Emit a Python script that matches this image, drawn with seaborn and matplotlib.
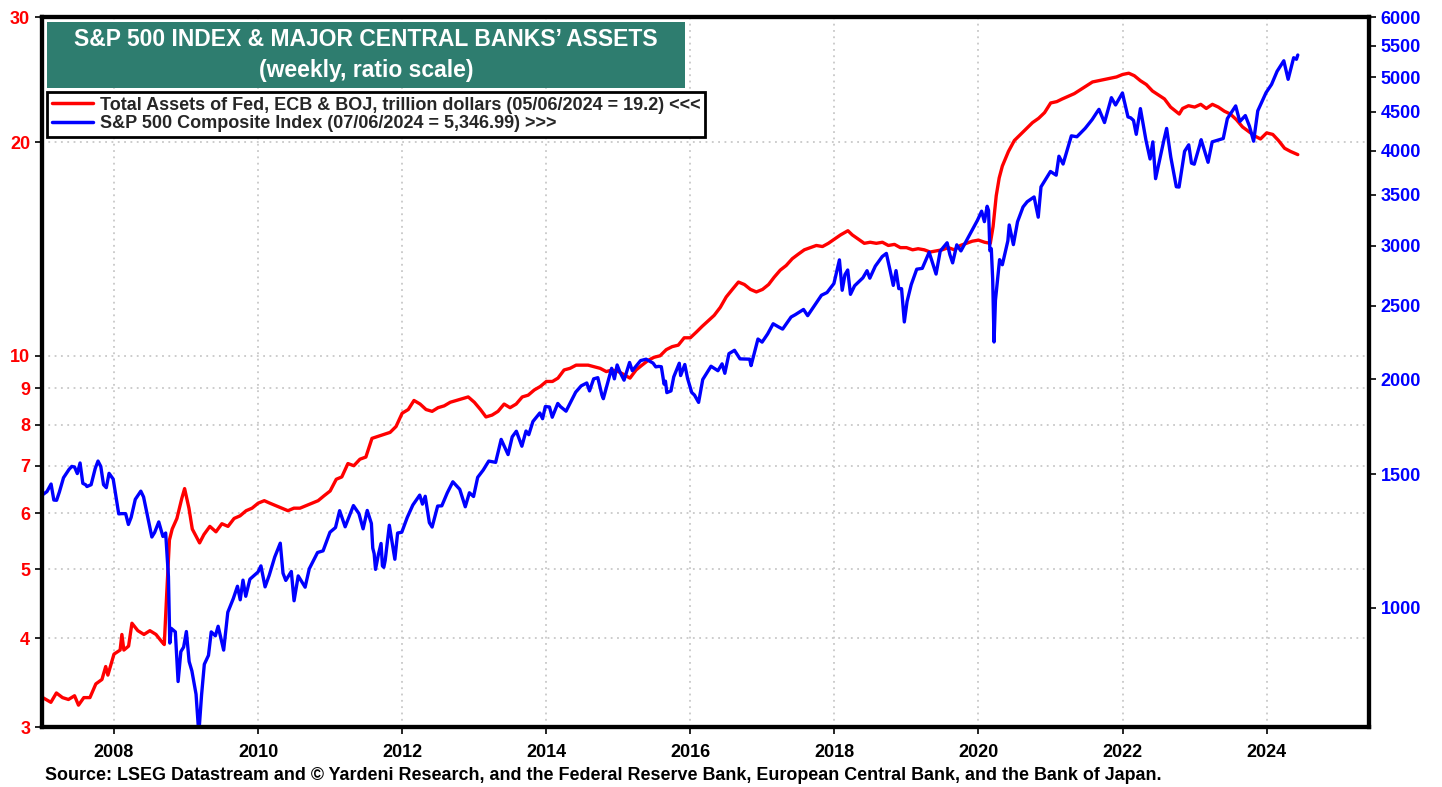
import matplotlib
matplotlib.use("Agg")
import matplotlib.pyplot as plt
import matplotlib.dates as mdates
import matplotlib.ticker as mticker
from matplotlib.lines import Line2D
from matplotlib.patches import Rectangle
import pandas as pd
import seaborn as sns

# central bank assets (trillion $)
assets_dates = [
    "2007-01-05", "2007-02-15", "2007-03-15", "2007-04-15", "2007-05-15", "2007-06-15", "2007-07-05",
    "2007-08-01", "2007-09-01", "2007-10-01", "2007-11-01", "2007-11-20", "2007-12-01", "2008-01-01",
    "2008-02-01", "2008-02-10", "2008-02-20", "2008-03-15", "2008-04-01", "2008-05-01", "2008-06-01",
    "2008-07-01", "2008-08-01", "2008-09-01", "2008-09-12", "2008-09-24", "2008-10-08", "2008-10-22",
    "2008-11-15", "2008-12-10", "2008-12-24", "2009-01-15", "2009-02-01", "2009-03-10", "2009-04-01",
    "2009-05-01", "2009-06-01", "2009-07-01", "2009-08-01", "2009-09-01", "2009-10-01", "2009-11-01",
    "2009-12-01", "2010-01-01", "2010-02-01", "2010-03-01", "2010-04-01", "2010-05-01", "2010-06-01",
    "2010-07-01", "2010-08-01", "2010-09-01", "2010-10-01", "2010-11-01", "2010-12-01", "2011-01-01",
    "2011-02-01", "2011-03-01", "2011-04-01", "2011-05-01", "2011-06-01", "2011-07-01", "2011-08-01",
    "2011-09-01", "2011-10-01", "2011-11-01", "2011-12-01", "2012-01-01", "2012-02-01", "2012-03-01",
    "2012-04-01", "2012-05-01", "2012-06-01", "2012-07-01", "2012-08-01", "2012-09-01", "2012-10-01",
    "2012-11-01", "2012-12-01", "2013-01-01", "2013-02-01", "2013-03-01", "2013-04-01", "2013-05-01",
    "2013-06-01", "2013-07-01", "2013-08-01", "2013-09-01", "2013-10-01", "2013-11-01", "2013-12-01",
    "2014-01-01", "2014-02-01", "2014-03-01", "2014-04-01", "2014-05-01", "2014-06-01", "2014-07-01",
    "2014-08-01", "2014-09-01", "2014-10-01", "2014-11-01", "2014-12-01", "2015-01-01", "2015-02-01",
    "2015-03-01", "2015-04-01", "2015-05-01", "2015-06-01", "2015-07-01", "2015-08-01", "2015-09-01",
    "2015-10-01", "2015-11-01", "2015-12-01", "2016-01-01", "2016-02-01", "2016-03-01", "2016-04-01",
    "2016-05-01", "2016-06-01", "2016-07-01", "2016-08-01", "2016-09-01", "2016-10-01", "2016-11-01",
    "2016-12-01", "2017-01-01", "2017-02-01", "2017-03-01", "2017-04-01", "2017-05-01", "2017-06-01",
    "2017-07-01", "2017-08-01", "2017-09-01", "2017-10-01", "2017-11-01", "2017-12-01", "2018-01-01",
    "2018-02-01", "2018-03-10", "2018-04-01", "2018-05-01", "2018-06-01", "2018-07-01", "2018-08-01",
    "2018-09-01", "2018-10-01", "2018-11-01", "2018-12-01", "2019-01-01", "2019-02-01", "2019-03-01",
    "2019-04-01", "2019-05-01", "2019-06-01", "2019-07-01", "2019-08-01", "2019-09-01", "2019-10-01",
    "2019-11-01", "2019-12-01", "2020-01-01", "2020-02-01", "2020-03-01", "2020-03-15", "2020-03-31",
    "2020-04-15", "2020-05-01", "2020-06-01", "2020-07-01", "2020-08-01", "2020-09-01", "2020-10-01",
    "2020-11-01", "2020-12-01", "2021-01-01", "2021-02-01", "2021-03-01", "2021-04-01", "2021-05-01",
    "2021-06-01", "2021-07-01", "2021-08-01", "2021-09-01", "2021-10-01", "2021-11-01", "2021-12-01",
    "2022-01-01", "2022-02-01", "2022-03-01", "2022-04-01", "2022-05-01", "2022-06-01", "2022-07-01",
    "2022-08-01", "2022-09-01", "2022-10-15", "2022-11-01", "2022-12-01", "2023-01-01", "2023-02-01",
    "2023-03-01", "2023-04-01", "2023-05-01", "2023-06-01", "2023-07-01", "2023-08-01", "2023-09-01",
    "2023-10-01", "2023-11-01", "2023-12-01", "2024-01-01", "2024-02-01", "2024-03-01", "2024-04-01",
    "2024-05-01", "2024-06-07",
]
assets_values = [
    3.30, 3.25, 3.35, 3.30, 3.28, 3.32, 3.22,
    3.30, 3.30, 3.45, 3.50, 3.65, 3.55, 3.80,
    3.85, 4.05, 3.85, 3.90, 4.20, 4.10, 4.05,
    4.10, 4.05, 3.95, 3.92, 4.60, 5.50, 5.70,
    5.90, 6.30, 6.50, 6.10, 5.70, 5.45, 5.60,
    5.75, 5.65, 5.80, 5.75, 5.90, 5.95, 6.05,
    6.10, 6.20, 6.25, 6.20, 6.15, 6.10, 6.05,
    6.10, 6.10, 6.15, 6.20, 6.25, 6.35, 6.45,
    6.70, 6.75, 7.05, 7.00, 7.15, 7.20, 7.65,
    7.70, 7.75, 7.80, 7.95, 8.30, 8.40, 8.65,
    8.55, 8.40, 8.35, 8.45, 8.50, 8.60, 8.65,
    8.70, 8.75, 8.60, 8.40, 8.20, 8.25, 8.35,
    8.55, 8.45, 8.55, 8.75, 8.80, 8.95, 9.05,
    9.20, 9.20, 9.30, 9.55, 9.60, 9.70, 9.70,
    9.70, 9.65, 9.60, 9.50, 9.55, 9.50, 9.40,
    9.30, 9.55, 9.70, 9.85, 9.95, 10.00, 10.20,
    10.30, 10.35, 10.60, 10.60, 10.80, 11.00, 11.20,
    11.40, 11.70, 12.10, 12.40, 12.70, 12.60, 12.40,
    12.30, 12.40, 12.60, 12.90, 13.20, 13.40, 13.70,
    13.90, 14.10, 14.20, 14.30, 14.25, 14.40, 14.60,
    14.80, 15.00, 14.80, 14.60, 14.40, 14.45, 14.40,
    14.45, 14.30, 14.35, 14.20, 14.20, 14.10, 14.15,
    14.10, 14.00, 14.05, 14.10, 14.20, 14.10, 14.30,
    14.40, 14.50, 14.55, 14.45, 14.40, 15.20, 16.80,
    17.80, 18.50, 19.40, 20.10, 20.50, 20.90, 21.30,
    21.60, 22.00, 22.70, 22.80, 23.00, 23.20, 23.40,
    23.70, 24.00, 24.30, 24.40, 24.50, 24.60, 24.70,
    24.90, 25.00, 24.80, 24.40, 24.10, 23.60, 23.30,
    23.00, 22.40, 21.90, 22.30, 22.50, 22.40, 22.60,
    22.30, 22.60, 22.40, 22.10, 21.90, 21.50, 21.00,
    20.70, 20.40, 20.20, 20.60, 20.50, 20.10, 19.60,
    19.40, 19.20,
]

# S&P 500 weekly closes
spx_dates = [
    "2007-01-05", "2007-01-26", "2007-02-16", "2007-03-02", "2007-03-16", "2007-03-30", "2007-04-20",
    "2007-05-18", "2007-06-01", "2007-06-15", "2007-06-29", "2007-07-13", "2007-07-27", "2007-08-10",
    "2007-08-17", "2007-09-07", "2007-09-28", "2007-10-12", "2007-10-26", "2007-11-09", "2007-11-23",
    "2007-12-07", "2007-12-28", "2008-01-11", "2008-01-25", "2008-02-08", "2008-02-29", "2008-03-14",
    "2008-03-28", "2008-04-18", "2008-05-16", "2008-05-30", "2008-06-20", "2008-07-11", "2008-07-25",
    "2008-08-15", "2008-09-05", "2008-09-19", "2008-10-03", "2008-10-10", "2008-10-17", "2008-11-07",
    "2008-11-21", "2008-12-05", "2008-12-19", "2009-01-02", "2009-01-16", "2009-01-30", "2009-02-20",
    "2009-03-06", "2009-03-20", "2009-04-03", "2009-04-24", "2009-05-08", "2009-05-29", "2009-06-12",
    "2009-07-10", "2009-07-31", "2009-08-28", "2009-09-18", "2009-10-02", "2009-10-16", "2009-10-30",
    "2009-11-20", "2009-12-31", "2010-01-15", "2010-02-05", "2010-02-26", "2010-03-26", "2010-04-23",
    "2010-05-07", "2010-05-21", "2010-06-18", "2010-07-02", "2010-07-23", "2010-08-27", "2010-09-17",
    "2010-10-29", "2010-11-26", "2010-12-31", "2011-01-28", "2011-02-18", "2011-03-18", "2011-04-29",
    "2011-05-27", "2011-06-17", "2011-07-08", "2011-07-29", "2011-08-05", "2011-08-12", "2011-08-19",
    "2011-09-02", "2011-09-16", "2011-09-23", "2011-09-30", "2011-10-07", "2011-10-28", "2011-11-25",
    "2011-12-09", "2011-12-30", "2012-01-27", "2012-02-24", "2012-03-30", "2012-04-13", "2012-04-27",
    "2012-05-18", "2012-06-01", "2012-06-29", "2012-07-20", "2012-08-17", "2012-09-14", "2012-10-19",
    "2012-11-16", "2012-12-07", "2012-12-28", "2013-01-18", "2013-02-15", "2013-03-15", "2013-04-19",
    "2013-05-17", "2013-06-21", "2013-07-12", "2013-08-02", "2013-08-30", "2013-09-20", "2013-10-04",
    "2013-10-25", "2013-11-29", "2013-12-13", "2013-12-27", "2014-01-17", "2014-01-31", "2014-02-28",
    "2014-03-14", "2014-04-11", "2014-05-30", "2014-06-27", "2014-07-25", "2014-08-08", "2014-08-29",
    "2014-09-19", "2014-10-10", "2014-10-17", "2014-11-28", "2014-12-12", "2014-12-26", "2015-01-09",
    "2015-01-30", "2015-02-27", "2015-03-13", "2015-04-24", "2015-05-22", "2015-06-26", "2015-07-10",
    "2015-07-24", "2015-08-07", "2015-08-21", "2015-08-28", "2015-09-04", "2015-09-25", "2015-10-09",
    "2015-11-06", "2015-11-13", "2015-12-04", "2015-12-18", "2016-01-08", "2016-01-22", "2016-02-12",
    "2016-03-04", "2016-04-15", "2016-05-20", "2016-06-10", "2016-06-24", "2016-07-15", "2016-08-12",
    "2016-09-09", "2016-10-28", "2016-11-04", "2016-12-09", "2016-12-30", "2017-01-27", "2017-02-24",
    "2017-03-24", "2017-04-13", "2017-05-26", "2017-06-16", "2017-07-28", "2017-08-18", "2017-09-22",
    "2017-10-27", "2017-11-24", "2017-12-29", "2018-01-26", "2018-02-09", "2018-02-23", "2018-03-09",
    "2018-03-23", "2018-04-13", "2018-05-25", "2018-06-15", "2018-06-29", "2018-07-27", "2018-08-31",
    "2018-09-21", "2018-10-12", "2018-10-26", "2018-11-09", "2018-11-23", "2018-12-07", "2018-12-21",
    "2019-01-04", "2019-01-25", "2019-02-22", "2019-03-22", "2019-04-26", "2019-05-31", "2019-06-21",
    "2019-07-26", "2019-08-09", "2019-08-23", "2019-09-13", "2019-10-04", "2019-11-29", "2019-12-27",
    "2020-01-17", "2020-01-31", "2020-02-14", "2020-02-21", "2020-02-28", "2020-03-06", "2020-03-13",
    "2020-03-20", "2020-03-27", "2020-04-17", "2020-05-01", "2020-05-29", "2020-06-05", "2020-06-26",
    "2020-07-17", "2020-08-14", "2020-09-04", "2020-10-09", "2020-10-30", "2020-11-13", "2020-12-31",
    "2021-01-29", "2021-02-12", "2021-03-05", "2021-04-16", "2021-05-14", "2021-06-25", "2021-07-30",
    "2021-08-27", "2021-09-03", "2021-10-01", "2021-11-05", "2021-11-26", "2021-12-31", "2022-01-07",
    "2022-01-28", "2022-02-11", "2022-02-25", "2022-03-11", "2022-04-01", "2022-04-29", "2022-05-20",
    "2022-06-03", "2022-06-17", "2022-07-29", "2022-08-12", "2022-09-02", "2022-09-30", "2022-10-14",
    "2022-11-11", "2022-12-02", "2022-12-16", "2022-12-30", "2023-01-27", "2023-02-03", "2023-03-10",
    "2023-03-31", "2023-05-26", "2023-06-16", "2023-07-28", "2023-08-18", "2023-09-15", "2023-10-06",
    "2023-10-27", "2023-11-17", "2023-12-29", "2024-01-26", "2024-02-23", "2024-03-28", "2024-04-19",
    "2024-05-17", "2024-05-31", "2024-06-07",
]
spx_values = [
    1410, 1423, 1456, 1387, 1386, 1421, 1484,
    1522, 1536, 1533, 1503, 1552, 1459, 1453,
    1445, 1453, 1527, 1561, 1536, 1453, 1440,
    1504, 1478, 1401, 1330, 1331, 1331, 1288,
    1316, 1390, 1425, 1400, 1318, 1240, 1257,
    1298, 1242, 1255, 1100, 899, 940, 930,
    800, 876, 888, 931, 850, 826, 770,
    683, 768, 843, 866, 930, 919, 946,
    880, 987, 1029, 1068, 1025, 1088, 1036,
    1091, 1115, 1136, 1066, 1104, 1167, 1217,
    1111, 1087, 1117, 1022, 1102, 1065, 1126,
    1183, 1189, 1258, 1276, 1343, 1279, 1364,
    1331, 1271, 1344, 1292, 1199, 1179, 1124,
    1174, 1216, 1136, 1131, 1155, 1285, 1159,
    1255, 1258, 1316, 1366, 1408, 1370, 1403,
    1295, 1278, 1362, 1363, 1418, 1466, 1433,
    1359, 1418, 1402, 1486, 1519, 1561, 1555,
    1667, 1592, 1680, 1709, 1633, 1710, 1691,
    1760, 1806, 1775, 1842, 1839, 1783, 1859,
    1841, 1816, 1924, 1961, 1978, 1931, 2003,
    2010, 1906, 1886, 2068, 2003, 2089, 2045,
    1995, 2105, 2053, 2117, 2126, 2101, 2077,
    2080, 2078, 1971, 1989, 1921, 1931, 2015,
    2100, 2023, 2092, 2006, 1922, 1907, 1865,
    1999, 2081, 2053, 2096, 2037, 2162, 2184,
    2128, 2126, 2085, 2260, 2239, 2295, 2367,
    2344, 2329, 2416, 2433, 2472, 2426, 2502,
    2581, 2602, 2674, 2873, 2620, 2747, 2786,
    2588, 2656, 2721, 2780, 2718, 2819, 2902,
    2930, 2767, 2659, 2781, 2633, 2633, 2380,
    2532, 2665, 2793, 2800, 2940, 2752, 2950,
    3026, 2919, 2847, 3007, 2952, 3141, 3240,
    3330, 3226, 3380, 3338, 2954, 2972, 2711,
    2240, 2541, 2875, 2831, 3044, 3194, 3009,
    3225, 3373, 3427, 3477, 3270, 3585, 3756,
    3714, 3934, 3842, 4185, 4173, 4281, 4395,
    4509, 4535, 4357, 4698, 4595, 4766, 4677,
    4432, 4419, 4385, 4204, 4545, 4132, 3901,
    4109, 3675, 4130, 4280, 3924, 3586, 3583,
    3993, 4072, 3852, 3840, 4071, 4136, 3862,
    4109, 4151, 4410, 4582, 4370, 4450, 4308,
    4117, 4514, 4770, 4891, 5089, 5254, 4967,
    5303, 5278, 5347,
]

left_ticks = [3, 4, 5, 6, 7, 8, 9, 10, 20, 30]
right_ticks = [1000, 1500, 2000, 2500, 3000, 3500, 4000, 4500, 5000, 5500, 6000]
year_ticks = [2008, 2010, 2012, 2014, 2016, 2018, 2020, 2022, 2024]

title_1 = "S&P 500 INDEX & MAJOR CENTRAL BANKS\u2019 ASSETS"
title_2 = "(weekly, ratio scale)"
label_assets = "Total Assets of Fed, ECB & BOJ, trillion dollars (05/06/2024 = 19.2) <<<"
label_spx = "S&P 500 Composite Index (07/06/2024 = 5,346.99) >>>"
source = ("Source: LSEG Datastream and \u00a9 Yardeni Research, and the Federal Reserve Bank, "
          "European Central Bank, and the Bank of Japan.")

assets = pd.DataFrame({"date": pd.to_datetime(assets_dates), "value": assets_values})
spx = pd.DataFrame({"date": pd.to_datetime(spx_dates), "value": spx_values})

sns.set_style("white")
plt.rcParams["font.family"] = ["Liberation Sans", "DejaVu Sans"]
plt.rcParams["font.weight"] = "bold"

fig = plt.figure(figsize=(14.42, 7.87), dpi=100)
ax = fig.add_axes([42 / 1442, 1 - 727 / 787, 1327 / 1442, 710 / 787])
ax2 = ax.twinx()

sns.lineplot(data=assets, x="date", y="value", ax=ax, color="#ff0000", linewidth=2.4)
sns.lineplot(data=spx, x="date", y="value", ax=ax2, color="#0000ff", linewidth=2.4)

ax.set_yscale("log")
ax2.set_yscale("log")
ax.set_ylim(3, 30)
ax2.set_ylim(697, 6000)
ax.set_xlim(pd.Timestamp("2007-01-01"), pd.Timestamp("2025-06-03"))

ax.yaxis.set_major_locator(mticker.FixedLocator(left_ticks))
ax.yaxis.set_major_formatter(mticker.FixedFormatter([str(t) for t in left_ticks]))
ax.yaxis.set_minor_locator(mticker.NullLocator())
ax2.yaxis.set_major_locator(mticker.FixedLocator(right_ticks))
ax2.yaxis.set_major_formatter(mticker.FixedFormatter([str(t) for t in right_ticks]))
ax2.yaxis.set_minor_locator(mticker.NullLocator())
ax.xaxis.set_major_locator(mticker.FixedLocator([mdates.date2num(pd.Timestamp(f"{y}-01-01")) for y in year_ticks]))
ax.xaxis.set_major_formatter(mticker.FixedFormatter([str(y) for y in year_ticks]))

ax.set_xlabel("")
ax.set_ylabel("")
ax2.set_ylabel("")

ax.grid(True, color="#c8c8c8", linestyle=(0, (1, 2.5)), linewidth=1.3)
ax2.grid(False)

ax.tick_params(axis="y", colors="black", labelcolor="#ff0000", labelsize=13, length=5, width=1.2, direction="out", left=True)
ax2.tick_params(axis="y", colors="black", labelcolor="#0000ff", labelsize=13, length=5, width=1.2, direction="out", right=True)
ax.tick_params(axis="x", colors="black", labelsize=13, length=5, width=1.2, direction="out", bottom=True, pad=7)
for lab in ax.get_yticklabels() + ax2.get_yticklabels() + ax.get_xticklabels():
    lab.set_fontweight("bold")

for a in (ax, ax2):
    for s in a.spines.values():
        s.set_color("black")
        s.set_linewidth(3)

# title box
ax2.add_patch(Rectangle((5 / 1327, 1 - 71 / 710), 638 / 1327, 66 / 710, transform=ax.transAxes,
                        facecolor="#2e7d6f", edgecolor="none", zorder=5))
ax2.text(324 / 1327, 1 - 22 / 710, title_1, transform=ax.transAxes, ha="center", va="center",
         color="white", fontsize=16.5, fontweight="bold", zorder=6)
ax2.text(324 / 1327, 1 - 54 / 710, title_2, transform=ax.transAxes, ha="center", va="center",
         color="white", fontsize=16.5, fontweight="bold", zorder=6)

handles = [Line2D([], [], color="#ff0000", linewidth=2.5), Line2D([], [], color="#0000ff", linewidth=2.5)]
leg = ax2.legend(handles, [label_assets, label_spx], loc="upper left",
                 bbox_to_anchor=(5 / 1327, 1 - 75 / 710), borderaxespad=0, fancybox=False,
                 prop={"weight": "bold", "size": 13}, handlelength=2.3, handletextpad=0.4,
                 labelspacing=0.1, borderpad=0.25, framealpha=1)
leg.get_frame().set_edgecolor("black")
leg.get_frame().set_linewidth(2)
leg.set_zorder(7)

fig.text(45 / 1442, 1 - 775 / 787, source, ha="left", va="center", fontsize=12.9, fontweight="bold", color="black")

fig.savefig("out.png", dpi=100)
